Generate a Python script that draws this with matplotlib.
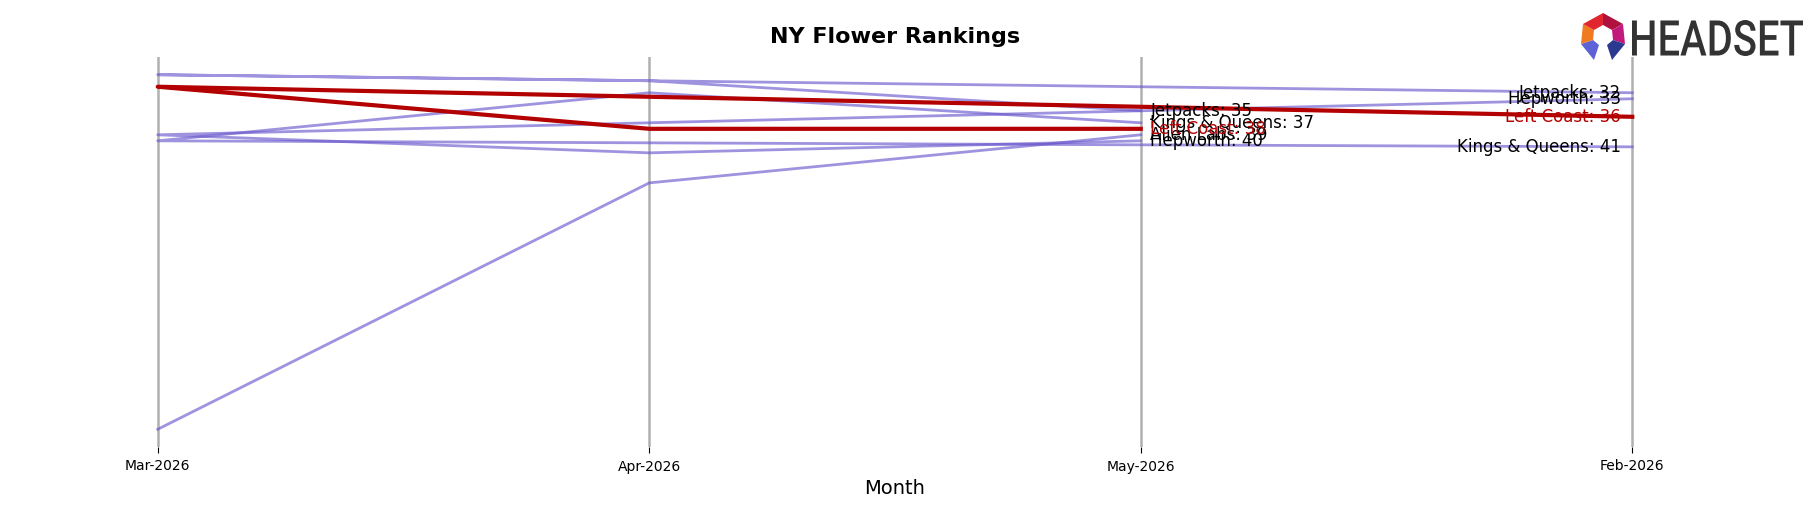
import matplotlib
matplotlib.use("Agg")
import matplotlib.pyplot as plt
from matplotlib.patches import Polygon, PathPatch
from matplotlib.textpath import TextPath
from matplotlib.font_manager import FontProperties
from matplotlib.transforms import Affine2D, IdentityTransform

# months in date order, ranks per brand (None = not ranked)
months = ["Feb-2026", "Mar-2026", "Apr-2026", "May-2026"]
brands = ["Alien Labs", "Hepworth", "Jetpacks", "Kings & Queens", "Left Coast"]
alien_labs = [None, 88, 47, 39]
hepworth = [33, 39, 42, 40]
jetpacks = [32, 29, 30, 35]
kings_queens = [41, 40, 32, 37]
left_coast = [36, 31, 38, 38]
ranks = [alien_labs, hepworth, jetpacks, kings_queens, left_coast]
highlight = "Left Coast"

W, H = 1818, 507
fig = plt.figure(figsize=(W / 100, H / 100), dpi=100)
ax = fig.add_axes([84 / W, 1 - 447 / H, (1706 - 84) / W, (447 - 57) / H])

purple = "#6A5ACD"
red = "#B30000"

for b in range(len(brands)):
    xs = [m for m, r in zip(months, ranks[b]) if r is not None]
    ys = [r for r in ranks[b] if r is not None]
    if brands[b] == highlight:
        ax.plot(xs, ys, color=red, linewidth=3, zorder=4)
    else:
        ax.plot(xs, ys, color=purple, linewidth=2, alpha=0.65, zorder=3)

ax.invert_yaxis()
ax.set_yticks([])
for s in ax.spines.values():
    s.set_visible(False)
ax.grid(axis="x", color="#b0b0b0", linewidth=1.8, zorder=1)
ax.tick_params(axis="x", labelsize=10, length=4, pad=5)
ax.set_xlabel("Month", fontsize=14, labelpad=4)

# end labels: first month to the left, last month to the right
first, last = months[0], months[-1]
xf = ax.xaxis.convert_units(first)
xl = ax.xaxis.convert_units(last)
for b in range(len(brands)):
    c = red if brands[b] == highlight else "black"
    if ranks[b][0] is not None:
        ax.annotate(brands[b] + ": " + str(ranks[b][0]), (xf, ranks[b][0]),
                    xytext=(-8, 0), textcoords="offset points",
                    ha="right", va="center", fontsize=12, color=c, zorder=5)
    if ranks[b][-1] is not None:
        ax.annotate(brands[b] + ": " + str(ranks[b][-1]), (xl, ranks[b][-1]),
                    xytext=(7, 0), textcoords="offset points",
                    ha="left", va="center", fontsize=12, color=c, zorder=5)

fig.text(895 / W, 1 - 37 / H, "NY Flower Rankings", ha="center", va="center",
         fontsize=16, fontweight="bold")

# HEADSET logo (pixel coords, origin bottom-left)
cx, cy = 1603, H - 36
pts_o = [(cx, cy + 23), (cx + 20, cy + 12), (cx + 22, cy - 8), (cx + 9, cy - 24),
         (cx - 9, cy - 24), (cx - 22, cy - 8), (cx - 20, cy + 12)]
pts_i = [(cx, cy + 11), (cx + 9, cy + 6), (cx + 10, cy - 4), (cx + 4, cy - 9),
         (cx - 4, cy - 9), (cx - 10, cy - 4), (cx - 9, cy + 6)]
seg_cols = ["#B0123F", "#C21A7C", "#2B3A90", None, "#5D63D6", "#F07A22", "#E0262E"]
for i in range(7):
    if seg_cols[i] is None:
        continue
    j = (i + 1) % 7
    poly = [pts_o[i], pts_o[j], pts_i[j], pts_i[i]]
    fig.patches.append(Polygon(poly, closed=True, facecolor=seg_cols[i],
                               edgecolor="none", transform=IdentityTransform(),
                               figure=fig))

tp = TextPath((0, 0), "HEADSET", size=100,
              prop=FontProperties(family="Roboto", weight="medium"))
bb = tp.get_extents()
sx = (1803 - 1632) / bb.width
sy = 36 / bb.height
tr = Affine2D().translate(-bb.x0, -bb.y0).scale(sx, sy).translate(1632, H - 56)
fig.patches.append(PathPatch(tr.transform_path(tp), facecolor="#333333",
                             edgecolor="none", transform=IdentityTransform(),
                             figure=fig))

fig.savefig("out.png", dpi=100)
